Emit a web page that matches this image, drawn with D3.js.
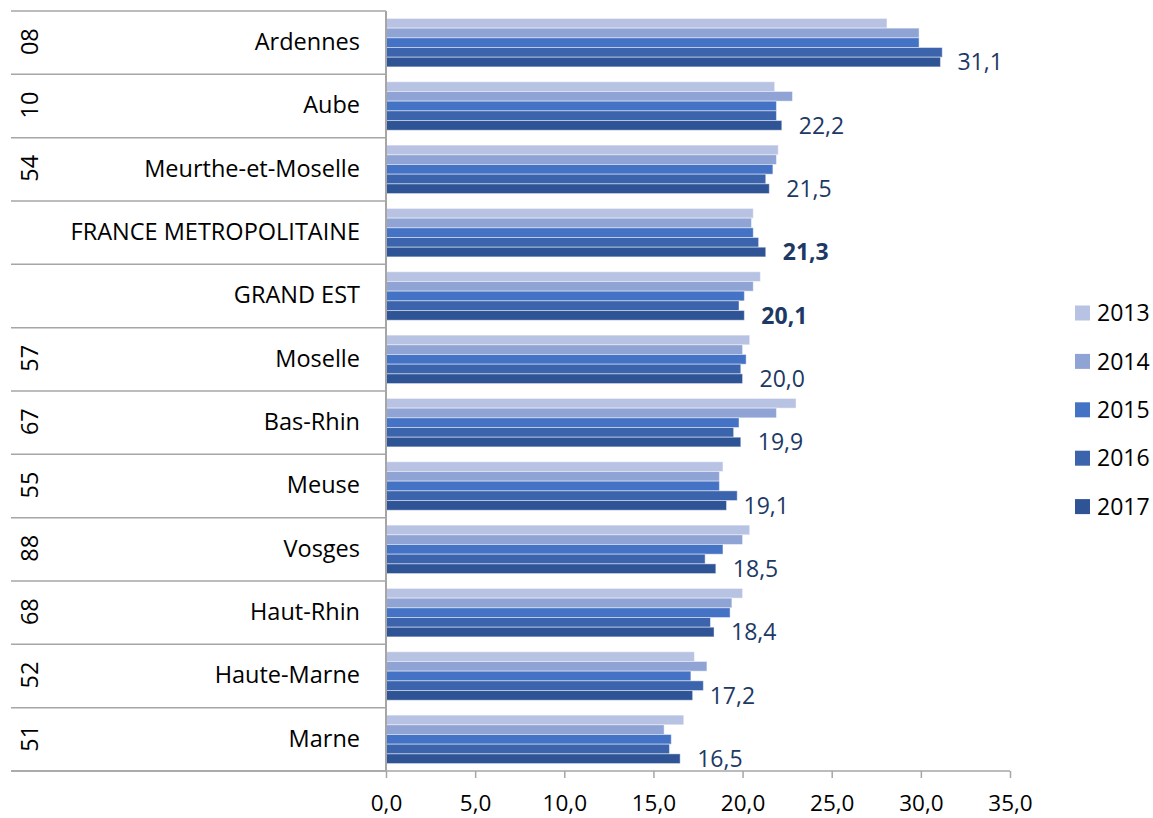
<!DOCTYPE html>
<html>
<head>
<meta charset="utf-8">
<script src="https://cdn.jsdelivr.net/npm/d3@7"></script>
<style>
  body { margin: 0; background: #fff; }
  svg { font-family: "Open Sans", "Noto Sans", sans-serif; }
</style>
</head>
<body>
<svg class="chart"></svg>
<script>
// departments, top to bottom
var codes = ["08", "10", "54", "", "", "57", "67", "55", "88", "68", "52", "51"]
var names = ["Ardennes", "Aube", "Meurthe-et-Moselle", "FRANCE METROPOLITAINE", "GRAND EST",
             "Moselle", "Bas-Rhin", "Meuse", "Vosges", "Haut-Rhin", "Haute-Marne", "Marne"]
var highlight = ["FRANCE METROPOLITAINE", "GRAND EST"]

var years = ["2013", "2014", "2015", "2016", "2017"]
var v2013 = [28.1, 21.8, 22.0, 20.6, 21.0, 20.4, 23.0, 18.9, 20.4, 20.0, 17.3, 16.7]
var v2014 = [29.9, 22.8, 21.9, 20.5, 20.6, 20.0, 21.9, 18.7, 20.0, 19.4, 18.0, 15.6]
var v2015 = [29.9, 21.9, 21.7, 20.6, 20.1, 20.2, 19.8, 18.7, 18.9, 19.3, 17.1, 16.0]
var v2016 = [31.2, 21.9, 21.3, 20.9, 19.8, 19.9, 19.5, 19.7, 17.9, 18.2, 17.8, 15.9]
var v2017 = [31.1, 22.2, 21.5, 21.3, 20.1, 20.0, 19.9, 19.1, 18.5, 18.4, 17.2, 16.5]
var xTicks = [0, 5, 10, 15, 20, 25, 30, 35]

var series = [v2013, v2014, v2015, v2016, v2017]
var colors = ["#b8c3e3", "#8fa4d4", "#4472c4", "#3b64ad", "#2f5496"]

const width = 1153, height = 818

var chart = d3.select(".chart")
    .attr("width", width)
    .attr("height", height)

var x = d3.scaleLinear().domain([0, 35]).range([386, 1010])

var y = d3.scaleBand()
    .domain(names)
    .range([11, 771])
    .paddingInner(0.235)
    .paddingOuter(0.1175)

var yInner = d3.scaleBand()
    .domain(years)
    .range([0, y.bandwidth()])

var comma = (v) => d3.format(".1f")(v).replace(".", ",")

var rows = names.map((n, i) => ({ name: n, code: codes[i], values: series.map((s) => s[i]) }))

// left category grid
var step = y.step()
var lines = d3.range(names.length + 1).map((i) => 11 + i * step)
chart.append("g")
    .selectAll("line")
    .data(lines)
    .enter()
    .append("line")
      .attr("x1", 11)
      .attr("x2", 386)
      .attr("y1", (d) => d)
      .attr("y2", (d) => d)
      .attr("stroke", "#a6a6a6")
      .attr("stroke-width", 1.5)

// bars
var groups = chart.append("g")
    .selectAll(".row")
    .data(rows)
    .enter()
    .append("g")
      .attr("class", "row")
      .attr("transform", (d) => "translate(0," + y(d.name) + ")")

groups.selectAll("rect")
    .data((d) => d.values.map((v, j) => ({ year: years[j], value: v, color: colors[j] })))
    .enter()
    .append("rect")
      .attr("x", x(0))
      .attr("y", (d) => yInner(d.year))
      .attr("width", (d) => x(d.value) - x(0))
      .attr("height", yInner.bandwidth())
      .attr("fill", (d) => d.color)
      .attr("stroke", "rgba(255,255,255,0.45)")
      .attr("stroke-width", 1)

// data labels (2017)
groups.append("text")
    .attr("x", (d) => x(d.values[4]) + 17)
    .attr("y", yInner("2017") + yInner.bandwidth() / 2)
    .attr("dy", "0.36em")
    .attr("fill", "#203864")
    .style("font-size", "23px")
    .style("font-weight", (d) => highlight.includes(d.name) ? "bold" : "normal")
    .text((d) => comma(d.values[4]))

// category names
chart.append("g")
    .selectAll("text")
    .data(rows)
    .enter()
    .append("text")
      .attr("x", 360)
      .attr("y", (d) => y(d.name) + y.bandwidth() / 2 - 1)
      .attr("dy", "0.36em")
      .attr("text-anchor", "end")
      .attr("fill", "#000")
      .style("font-size", "23.5px")
      .text((d) => d.name)

// department codes, rotated
chart.append("g")
    .selectAll("text")
    .data(rows.filter((d) => d.code))
    .enter()
    .append("text")
      .attr("transform", (d) => "translate(30," + (y(d.name) + y.bandwidth() / 2 - 1) + ") rotate(-90)")
      .attr("dy", "0.36em")
      .attr("text-anchor", "middle")
      .attr("fill", "#000")
      .style("font-size", "23.5px")
      .text((d) => d.code)

// value axis
var axis = chart.append("g")
    .attr("transform", "translate(0,771)")
    .call(d3.axisBottom(x).tickValues(xTicks).tickSize(7).tickPadding(17).tickFormat(comma))

axis.select(".domain").remove()
axis.selectAll(".tick line").attr("stroke", "#a6a6a6").attr("stroke-width", 1.5)
axis.selectAll(".tick text")
    .attr("fill", "#000")
    .style("font-size", "22.5px")
    .style("font-family", "'Open Sans', 'Noto Sans', sans-serif")

chart.append("line")
    .attr("x1", 11).attr("x2", x(35))
    .attr("y1", 771).attr("y2", 771)
    .attr("stroke", "#a6a6a6")
    .attr("stroke-width", 1.5)

chart.append("line")
    .attr("x1", x(0)).attr("x2", x(0))
    .attr("y1", 11).attr("y2", 771)
    .attr("stroke", "#a6a6a6")
    .attr("stroke-width", 2)

// legend
var legend = chart.append("g")
    .attr("transform", "translate(1075,313)")
  .selectAll("g")
    .data(years)
    .enter()
  .append("g")
    .attr("transform", (d, i) => "translate(0," + i * 48.4 + ")")

legend.append("rect")
    .attr("x", 0)
    .attr("y", -7.5)
    .attr("width", 15)
    .attr("height", 15)
    .attr("fill", (d, i) => colors[i])

legend.append("text")
    .attr("x", 22)
    .attr("dy", "0.36em")
    .attr("fill", "#000")
    .style("font-size", "23px")
    .text((d) => d)
</script>
</body>
</html>
